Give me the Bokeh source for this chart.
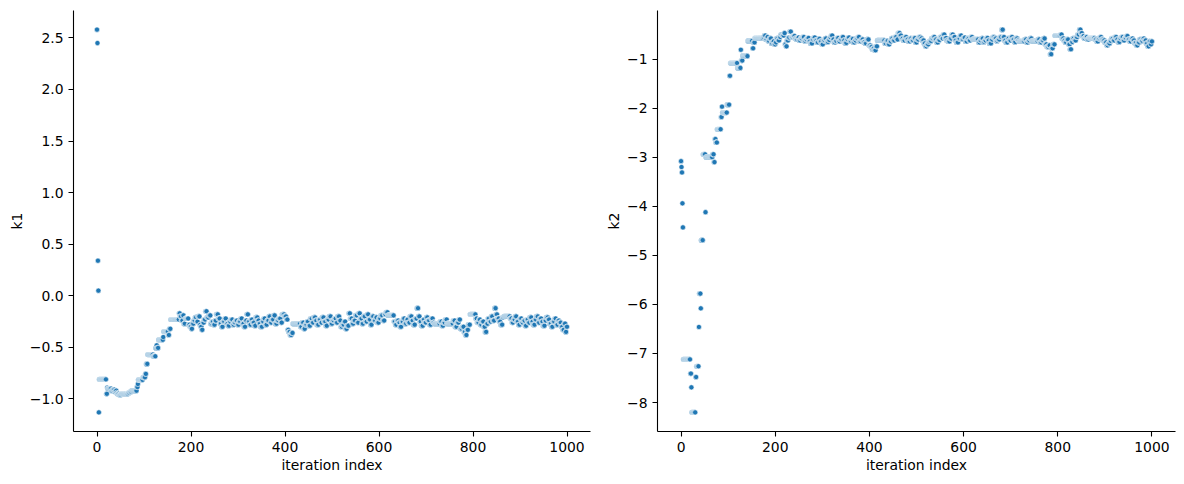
import numpy as np
from bokeh.plotting import figure
from bokeh.layouts import row
from bokeh.models import ColumnDataSource, Range1d, FixedTicker
from bokeh.embed import file_html
from bokeh.resources import INLINE

N_ITER = 1000

# MCMC chain read from the picture as runs: start iteration of each run and the
# (k1, k2) value held during it (a rejected proposal repeats the previous value).
run_start = [0, 1, 2, 3, 4, 5, 20, 22, 23, 31, 33, 38, 39, 42, 43, 47, 52, 53, 67, 70,
             72, 74, 77, 85, 87, 88, 98, 103, 105, 108, 120, 125, 127, 128, 131, 141, 142, 152, 154, 157,
             175, 177, 180, 183, 185, 188, 192, 195, 198, 201, 203, 206, 209, 212, 215, 219, 221, 223, 225, 228,
             231, 234, 238, 242, 245, 248, 251, 254, 258, 262, 265, 268, 272, 275, 279, 282, 285, 289, 292, 295,
             299, 302, 306, 309, 313, 316, 319, 322, 325, 328, 331, 335, 338, 342, 345, 348, 352, 355, 358, 362,
             366, 369, 372, 376, 379, 383, 387, 391, 394, 399, 403, 406, 408, 411, 414, 417, 433, 436, 440, 443,
             447, 450, 454, 458, 461, 465, 468, 472, 476, 479, 483, 487, 490, 494, 498, 501, 505, 509, 512, 516,
             519, 522, 526, 529, 532, 536, 539, 543, 546, 550, 554, 557, 560, 564, 567, 571, 575, 578, 582, 585,
             589, 593, 596, 600, 604, 608, 612, 615, 619, 632, 635, 638, 642, 645, 648, 652, 655, 659, 662, 666,
             670, 673, 677, 681, 684, 687, 690, 694, 697, 701, 704, 708, 711, 715, 718, 730, 734, 737, 741, 745,
             758, 762, 766, 770, 773, 777, 781, 784, 787, 790, 794, 806, 809, 813, 816, 819, 823, 826, 829, 832,
             835, 839, 842, 846, 849, 852, 856, 859, 863, 866, 879, 883, 886, 890, 893, 897, 900, 904, 907, 911,
             914, 918, 921, 925, 928, 932, 935, 939, 942, 946, 949, 953, 956, 960, 963, 967, 970, 974, 977, 981,
             984, 988, 991, 994, 997, 999]

k1_run = [2.58, 2.45, 0.34, 0.05, -1.13, -0.81, -0.95, -0.89, -0.90, -0.92, -0.91, -0.93, -0.92, -0.94, -0.95, -0.96, -0.95, -0.95, -0.94, -0.93,
          -0.93, -0.92, -0.92, -0.885, -0.855, -0.815, -0.79, -0.757, -0.66, -0.57, -0.586, -0.505, -0.48, -0.505, -0.427, -0.40, -0.347, -0.38, -0.32, -0.23,
          -0.17, -0.20, -0.24, -0.19, -0.27, -0.22, -0.22, -0.28, -0.30, -0.32, -0.27, -0.24, -0.21, -0.25, -0.20, -0.28, -0.30, -0.33, -0.26, -0.23,
          -0.15, -0.21, -0.19, -0.27, -0.25, -0.28, -0.24, -0.18, -0.22, -0.27, -0.30, -0.25, -0.22, -0.27, -0.29, -0.25, -0.23, -0.28, -0.26, -0.24,
          -0.28, -0.25, -0.22, -0.27, -0.30, -0.24, -0.18, -0.25, -0.28, -0.23, -0.26, -0.29, -0.21, -0.24, -0.27, -0.30, -0.25, -0.22, -0.28, -0.24,
          -0.20, -0.26, -0.23, -0.19, -0.27, -0.24, -0.22, -0.26, -0.18, -0.20, -0.23, -0.33, -0.35, -0.38, -0.36, -0.27, -0.30, -0.26, -0.32, -0.28,
          -0.25, -0.29, -0.22, -0.26, -0.21, -0.24, -0.28, -0.23, -0.26, -0.21, -0.25, -0.29, -0.23, -0.20, -0.27, -0.24, -0.22, -0.26, -0.20, -0.24,
          -0.30, -0.28, -0.25, -0.32, -0.29, -0.17, -0.22, -0.27, -0.24, -0.19, -0.26, -0.17, -0.22, -0.27, -0.20, -0.25, -0.18, -0.23, -0.28, -0.20,
          -0.24, -0.21, -0.26, -0.22, -0.19, -0.24, -0.18, -0.16, -0.19, -0.25, -0.28, -0.24, -0.26, -0.30, -0.25, -0.22, -0.27, -0.23, -0.26, -0.20,
          -0.24, -0.28, -0.22, -0.12, -0.20, -0.25, -0.29, -0.23, -0.26, -0.21, -0.24, -0.28, -0.22, -0.26, -0.27, -0.25, -0.29, -0.26, -0.23, -0.27,
          -0.24, -0.30, -0.26, -0.23, -0.32, -0.30, -0.35, -0.38, -0.33, -0.28, -0.18, -0.22, -0.26, -0.23, -0.28, -0.25, -0.30, -0.35, -0.27, -0.22,
          -0.25, -0.20, -0.24, -0.12, -0.18, -0.22, -0.25, -0.28, -0.21, -0.20, -0.22, -0.26, -0.23, -0.20, -0.25, -0.28, -0.22, -0.26, -0.24, -0.29,
          -0.23, -0.26, -0.21, -0.25, -0.28, -0.23, -0.20, -0.26, -0.22, -0.25, -0.29, -0.24, -0.21, -0.23, -0.27, -0.30, -0.25, -0.22, -0.28, -0.24,
          -0.26, -0.30, -0.33, -0.27, -0.35, -0.30]

k2_run = [-3.08, -3.20, -3.31, -3.94, -4.43, -7.12, -7.41, -7.69, -8.20, -7.48, -7.26, -6.46, -5.78, -6.08, -4.69, -2.94, -4.12, -3.00, -2.94, -3.10,
          -2.63, -2.70, -2.43, -2.18, -1.97, -2.09, -1.93, -1.34, -1.08, -1.08, -1.18, -1.18, -0.81, -1.03, -0.93, -0.94, -0.63, -0.78, -0.66, -0.57,
          -0.55, -0.52, -0.60, -0.55, -0.63, -0.58, -0.68, -0.64, -0.70, -0.66, -0.58, -0.62, -0.55, -0.50, -0.52, -0.47, -0.70, -0.74, -0.62, -0.56,
          -0.44, -0.55, -0.53, -0.58, -0.60, -0.56, -0.62, -0.58, -0.55, -0.63, -0.60, -0.57, -0.64, -0.68, -0.60, -0.56, -0.62, -0.66, -0.59, -0.64,
          -0.70, -0.62, -0.58, -0.65, -0.61, -0.56, -0.52, -0.60, -0.66, -0.63, -0.57, -0.64, -0.60, -0.55, -0.62, -0.67, -0.60, -0.56, -0.63, -0.59,
          -0.66, -0.62, -0.58, -0.55, -0.64, -0.60, -0.65, -0.68, -0.60, -0.72, -0.75, -0.80, -0.78, -0.82, -0.74, -0.62, -0.68, -0.63, -0.70, -0.64,
          -0.58, -0.62, -0.55, -0.60, -0.47, -0.52, -0.58, -0.62, -0.55, -0.60, -0.64, -0.58, -0.62, -0.57, -0.66, -0.60, -0.55, -0.58, -0.62, -0.68,
          -0.74, -0.70, -0.65, -0.63, -0.58, -0.55, -0.60, -0.66, -0.61, -0.55, -0.58, -0.50, -0.57, -0.62, -0.64, -0.58, -0.50, -0.55, -0.62, -0.66,
          -0.58, -0.52, -0.60, -0.56, -0.64, -0.58, -0.62, -0.55, -0.60, -0.66, -0.62, -0.58, -0.65, -0.62, -0.57, -0.62, -0.68, -0.60, -0.55, -0.58,
          -0.63, -0.60, -0.55, -0.40, -0.55, -0.62, -0.66, -0.58, -0.62, -0.55, -0.60, -0.65, -0.58, -0.62, -0.64, -0.60, -0.66, -0.62, -0.58, -0.63,
          -0.60, -0.66, -0.62, -0.58, -0.70, -0.75, -0.72, -0.90, -0.78, -0.70, -0.52, -0.50, -0.58, -0.62, -0.66, -0.60, -0.70, -0.80, -0.65, -0.58,
          -0.62, -0.55, -0.50, -0.40, -0.47, -0.53, -0.58, -0.55, -0.60, -0.57, -0.60, -0.64, -0.58, -0.55, -0.60, -0.62, -0.66, -0.72, -0.68, -0.63,
          -0.58, -0.62, -0.55, -0.60, -0.65, -0.58, -0.55, -0.62, -0.57, -0.53, -0.60, -0.64, -0.58, -0.62, -0.67, -0.72, -0.66, -0.60, -0.63, -0.58,
          -0.62, -0.68, -0.74, -0.64, -0.70, -0.64]

k1_ticks = [-1.0, -0.5, 0.0, 0.5, 1.0, 1.5, 2.0, 2.5]
k1_tick_labels = ["\u22121.0", "\u22120.5", "0.0", "0.5", "1.0", "1.5", "2.0", "2.5"]
k2_ticks = [-8, -7, -6, -5, -4, -3, -2, -1]
k2_tick_labels = ["\u22128", "\u22127", "\u22126", "\u22125", "\u22124", "\u22123", "\u22122", "\u22121"]
x_ticks = [0, 200, 400, 600, 800, 1000]
x_tick_labels = ["0", "200", "400", "600", "800", "1000"]

# expand runs into one value per iteration
iters = np.arange(N_ITER + 1)
bounds = run_start[1:] + [N_ITER + 1]
k1 = np.concatenate([[v] * (b - a) for v, a, b in zip(k1_run, run_start, bounds)])
k2 = np.concatenate([[v] * (b - a) for v, a, b in zip(k2_run, run_start, bounds)])

BLUE = "#1f77b4"
FONT = "DejaVu Sans"
FS = "13.9px"


def padded(lo, hi, frac=0.05):
    d = (hi - lo) * frac
    return lo - d, hi + d


def make(y, ylabel, yticks, ylabels, fw, bl, br):
    x0, x1 = padded(0, N_ITER)
    y0, y1 = padded(float(y.min()), float(y.max()))
    p = figure(frame_width=fw, frame_height=421, output_backend="svg", toolbar_location=None,
               x_range=Range1d(x0, x1), y_range=Range1d(y0, y1),
               min_border_left=bl, min_border_right=br, min_border_top=10, min_border_bottom=50)
    src = ColumnDataSource(dict(x=iters, y=y))
    p.scatter("x", "y", source=src, size=5.2, fill_color=BLUE, line_color="white", line_width=0.6)
    p.grid.visible = False
    p.outline_line_color = None
    p.background_fill_color = "white"
    for ax, ticks, labels in ((p.xaxis[0], x_ticks, x_tick_labels), (p.yaxis[0], yticks, ylabels)):
        ax.ticker = FixedTicker(ticks=ticks)
        ax.major_label_overrides = {t: l for t, l in zip(ticks, labels)}
        ax.minor_tick_line_color = None
        ax.major_tick_in = 0
        ax.major_tick_out = 5
        ax.major_tick_line_width = 1.1
        ax.axis_line_width = 1.1
        ax.axis_line_color = "black"
        ax.major_tick_line_color = "black"
        ax.major_label_text_font = FONT
        ax.major_label_text_font_size = FS
        ax.major_label_text_color = "black"
        ax.major_label_standoff = 5
        ax.axis_label_text_font = FONT
        ax.axis_label_text_font_size = FS
        ax.axis_label_text_font_style = "normal"
        ax.axis_label_text_color = "black"
    p.xaxis.axis_label = "iteration index"
    p.xaxis.axis_label_standoff = 2
    p.yaxis.axis_label = ylabel
    p.yaxis.axis_label_standoff = 2
    return p


p1 = make(k1, "k1", k1_ticks, k1_tick_labels, 517, 73, 7)
p2 = make(k2, "k2", k2_ticks, k2_tick_labels, 518, 60, 5)

layout = row(p1, p2)
open("out.html", "w").write(file_html(layout, INLINE))
